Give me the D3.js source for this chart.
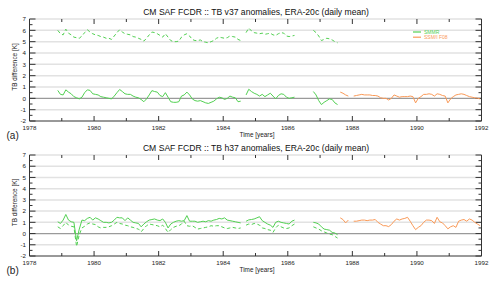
<!DOCTYPE html>
<html>
<head>
<meta charset="utf-8">
<script src="https://cdn.jsdelivr.net/npm/d3@7"></script>
<style>
  body { margin: 0; background: #fff; }
  svg { display: block; font-family: "Liberation Sans", Arial, sans-serif; }
</style>
</head>
<body>
<svg width="500" height="284"></svg>
<script>
// monthly anomalies, SMMR starts Nov 1978, SSM/I F08 starts Aug 1987 (null = no data)
const smmrStart = 1978 + 10.5 / 12;
const ssmiStart = 1987 + 7.5 / 12;

const v37Smmr = [
  0.7, 0.35,
  0.3, 0.75, 0.55, 0.4, 0.15, 0.05, -0.05, 0.1, 0.5, 0.75, 0.7, 0.4,
  0.35, 0.3, 0.15, 0.1, 0.05, 0.0, -0.05, 0.2, 0.5, 0.78, 0.6, 0.4,
  0.35, 0.35, 0.2, 0.1, 0.05, -0.1, -0.3, -0.05, 0.3, 0.68, 0.6, 0.55,
  0.25, 0.15, 0.5, 0.1, -0.3, -0.35, -0.35, -0.3, 0.2, 0.3, 0.55, 0.3,
  -0.05, -0.2, -0.25, -0.2, -0.3, -0.4, -0.45, -0.35, -0.25, -0.05, 0.1, 0.05,
  -0.1, 0.0, 0.2, 0.1, 0.05, -0.3, -0.25, null, 0.3, 0.8, 0.6, 0.45,
  0.35, 0.2, 0.35, 0.15, 0.3, 0.45, 0.2, -0.05, 0.25, 0.4, 0.35, 0.1,
  0.0, 0.05, 0.1, null, null, null, null, null, null, 0.6, 0.3, -0.2,
  -0.55, -0.35, -0.2, -0.05, -0.1, -0.4, -0.55
];
const v37SmmrDashed = [
  6.0, 5.7,
  5.6, 6.1, 5.75, 5.6, 5.4, 5.35, 5.3, 5.5, 5.8, 6.05, 5.85, 5.7,
  5.6, 5.55, 5.45, 5.4, 5.3, 5.3, 5.2, 5.5, 5.8, 6.05, 5.85, 5.7,
  5.65, 5.6, 5.45, 5.4, 5.3, 5.2, 5.05, 5.3, 5.6, 5.85, 5.8, 5.7,
  5.55, 5.4, 5.7, 5.4, 5.1, 5.0, 5.0, 5.05, 5.4, 5.6, 5.7, 5.5,
  5.2, 5.1, 5.1, 5.15, 5.0, 4.95, 4.9, 5.0, 5.1, 5.3, 5.4, 5.35,
  5.3, 5.35, 5.5, 5.45, 5.4, 5.2, 5.1, null, 5.8, 6.2, 5.95, 5.8,
  5.75, 5.7, 5.75, 5.65, 5.7, 5.75, 5.6, 5.55, 5.7, 5.8, 5.75, 5.5,
  5.45, 5.5, 5.55, null, null, null, null, null, null, 6.0, 5.8, 5.5,
  5.1, 5.2, 5.3, 5.25, 5.15, 5.0, 4.9
];
const v37Ssmi = [
  0.55, 0.45, 0.3, 0.2, null,
  0.2, 0.25, 0.3, 0.35, 0.3, 0.3, 0.3, 0.25, 0.25, 0.2, 0.05, 0.0,
  0.0, -0.15, 0.0, 0.3, 0.2, 0.1, 0.15, 0.15, 0.15, 0.2, 0.15, -0.4,
  0.0, 0.15, 0.35, 0.35, 0.4, 0.35, 0.2, 0.4, 0.35, 0.25, 0.2, -0.4,
  -0.05, 0.15, 0.3, 0.35, 0.4, 0.35, 0.25, 0.15, 0.1, 0.05, 0.0, -0.05
];

const h37Smmr = [
  1.05, 0.9,
  1.2, 1.7, 1.2, 1.05, 1.0, -0.65, 0.4, 1.2, 1.15, 1.35, 1.45, 1.2,
  1.4, 1.3, 1.15, 1.0, 1.0, 0.95, 1.0, 1.2, 1.45, 1.4, 1.4, 1.15,
  1.4, 1.2, 1.0, 0.95, 0.9, 0.6, 0.85, 1.05, 1.2, 1.25, 1.3, 1.2,
  1.15, 1.3, 1.0, 0.5, 0.85, 1.0, 1.1, 1.15, 1.1, 1.15, 1.6, 1.1,
  1.1, 1.1, 1.0, 1.05, 1.1, 1.05, 1.15, 1.1, 1.2, 1.25, 1.35, 1.3,
  1.4, 1.2, 1.15, 1.1, 1.05, 1.0, 0.95, null, 1.1, 1.22, 1.25, 1.3,
  1.4, 1.5, 1.15, 1.0, 0.85, 0.75, 0.55, 1.0, 1.1, 1.0, 0.95, 0.9,
  0.85, 1.1, 1.2, null, null, null, null, null, null, 1.0, 0.95, 0.85,
  0.6, 0.4, 0.35, 0.3, 0.1, 0.05, -0.1
];
const h37SmmrDashed = [
  0.6, 0.45,
  0.7, 1.0, 0.75, 0.65, 0.6, -1.15, -0.1, 0.5, 0.65, 0.85, 0.95, 0.85,
  0.8, 0.6, 0.5, 0.55, 0.55, 0.6, 0.7, 0.85, 1.0, 0.9, 0.85, 0.75,
  0.7, 0.6, 0.55, 0.45, 0.4, 0.15, 0.45, 0.7, 0.85, 0.8, 0.75, 0.7,
  0.6, 0.75, 0.45, 0.1, 0.35, 0.55, 0.65, 0.7, 0.85, 1.1, 0.7, 0.65,
  0.7, 0.55, 0.4, 0.45, 0.5, 0.55, 0.6, 0.7, 0.65, 0.7, 0.7, 0.6,
  0.5, 0.45, 0.5, 0.55, 0.5, 0.45, 0.5, null, 0.75, 0.85, 0.8, 0.9,
  0.85, 0.75, 0.5, 0.45, 0.35, 0.3, 0.1, 0.5, 0.75, 0.6, 0.5, 0.45,
  0.5, 0.7, 0.85, null, null, null, null, null, null, 0.6, 0.5, 0.4,
  0.25, 0.15, 0.05, -0.05, -0.1, -0.25, -0.4
];
const h37Ssmi = [
  1.4, 1.25, 0.95, 1.2, null,
  1.1, 1.1, 1.15, 1.2, 1.2, 1.15, 1.2, 1.2, 1.25, 1.0, 0.85, 0.7,
  0.7, 0.62, 0.8, 1.1, 1.3, 1.2, 1.3, 1.35, 1.45, 1.1, 0.7, 0.35,
  0.55, 0.7, 1.0, 1.2, 1.2, 1.15, 0.9, 1.45, 1.05, 0.95, 0.7, 0.42,
  0.6, 0.7, 0.55, 1.1, 1.2, 1.25, 1.1, 1.3, 1.2, 1.0, 0.85, 0.7
];

const yTicks = [-2, -1, 0, 1, 2, 3, 4, 5, 6, 7];
const xTicks = [1978, 1980, 1982, 1984, 1986, 1988, 1990, 1992];
const legendNames = ["SMMR", "SSM/I F08"];

const green = "#52d052";
const orange = "#fa9a58";

const svg = d3.select("svg");
const x = d3.scaleLinear().domain([1978, 1992]).range([29.5, 481.5]);

const panels = [
  { title: "CM SAF FCDR :: TB v37 anomalies, ERA-20c (daily mean)", tag: "(a)",
    y0: 121, y1: 19, smmr: v37Smmr, smmrD: v37SmmrDashed, ssmi: v37Ssmi, legend: true },
  { title: "CM SAF FCDR :: TB h37 anomalies, ERA-20c (daily mean)", tag: "(b)",
    y0: 256, y1: 155, smmr: h37Smmr, smmrD: h37SmmrDashed, ssmi: h37Ssmi, legend: false }
];

function toPoints(values, start) {
  return values.map((v, i) => ({ t: start + i / 12, v: v }));
}

panels.forEach((p) => {
  const y = d3.scaleLinear().domain([-2, 7]).range([p.y0, p.y1]);
  const g = svg.append("g");
  const [xl, xr] = x.range();

  // grid lines
  g.append("g").selectAll("line")
    .data(yTicks.filter((d) => d > -2))
    .join("line")
    .attr("x1", xl).attr("x2", xr)
    .attr("y1", (d) => y(d)).attr("y2", (d) => y(d))
    .attr("stroke", (d) => (d === 0 ? "#9a9a9a" : "#e2e2e2"))
    .attr("stroke-width", (d) => (d === 0 ? 1.3 : 1.5));

  // frame
  g.append("path")
    .attr("d", `M${xl},${y(7)}V${y(-2)}H${xr}V${y(7)}`)
    .attr("fill", "none").attr("stroke", "#333").attr("stroke-width", 1);

  // y ticks, both sides
  const yMinor = d3.range(-2, 7.01, 0.5);
  g.append("g").selectAll("line")
    .data(yMinor)
    .join("line")
    .attr("x1", xl).attr("x2", (d) => xl + (Number.isInteger(d) ? 6 : 3))
    .attr("y1", (d) => y(d)).attr("y2", (d) => y(d))
    .attr("stroke", "#333");
  g.append("g").selectAll("line")
    .data(yMinor)
    .join("line")
    .attr("x1", xr).attr("x2", (d) => xr - (Number.isInteger(d) ? 6 : 3))
    .attr("y1", (d) => y(d)).attr("y2", (d) => y(d))
    .attr("stroke", "#333");

  // x ticks, bottom and top
  const xMinor = d3.range(1978, 1992.01, 1);
  g.append("g").selectAll("line")
    .data(xMinor)
    .join("line")
    .attr("x1", (d) => x(d)).attr("x2", (d) => x(d))
    .attr("y1", y(-2)).attr("y2", (d) => y(-2) - (d % 2 === 0 ? 5 : 3))
    .attr("stroke", "#333");
  g.append("g").selectAll("line")
    .data(xMinor)
    .join("line")
    .attr("x1", (d) => x(d)).attr("x2", (d) => x(d))
    .attr("y1", y(7)).attr("y2", (d) => y(7) + (d % 2 === 0 ? 5 : 3))
    .attr("stroke", "#333");

  // tick labels
  g.append("g").selectAll("text")
    .data(yTicks)
    .join("text")
    .attr("x", xl - 3.5).attr("y", (d) => y(d) + 2.2)
    .attr("text-anchor", "end").attr("font-size", 6.2).attr("fill", "#222")
    .text((d) => d);
  g.append("g").selectAll("text")
    .data(xTicks)
    .join("text")
    .attr("x", (d) => x(d)).attr("y", y(-2) + 8.6)
    .attr("text-anchor", "middle").attr("font-size", 6.2).attr("fill", "#222")
    .text((d) => d);

  // titles and labels
  g.append("text")
    .attr("x", 256).attr("y", p.y1 - 4)
    .attr("text-anchor", "middle").attr("font-size", 8.6).attr("fill", "#111")
    .text(p.title);
  g.append("text")
    .attr("transform", `translate(17,${(p.y0 + p.y1) / 2 - 3}) rotate(-90)`)
    .attr("text-anchor", "middle").attr("font-size", 6.4).attr("fill", "#222")
    .text("TB difference [K]");
  g.append("text")
    .attr("x", 257).attr("y", p.y0 + 16)
    .attr("text-anchor", "middle").attr("font-size", 6.4).attr("fill", "#222")
    .text("Time [years]");
  g.append("text")
    .attr("x", 6.5).attr("y", p.y0 + 17.5)
    .attr("font-size", 10).attr("fill", "#222")
    .text(p.tag);

  // series
  const line = d3.line()
    .defined((d) => d.v !== null)
    .x((d) => x(d.t))
    .y((d) => y(d.v));

  g.append("path")
    .attr("d", line(toPoints(p.smmrD, smmrStart)))
    .attr("fill", "none").attr("stroke", green).attr("stroke-width", 1)
    .attr("stroke-dasharray", "3.5,2.5");
  g.append("path")
    .attr("d", line(toPoints(p.smmr, smmrStart)))
    .attr("fill", "none").attr("stroke", green).attr("stroke-width", 1);
  g.append("path")
    .attr("d", line(toPoints(p.ssmi, ssmiStart)))
    .attr("fill", "none").attr("stroke", orange).attr("stroke-width", 1);

  if (p.legend) {
    const lg = g.append("g").attr("transform", "translate(413,32)");
    lg.append("g").selectAll("line")
      .data(legendNames)
      .join("line")
      .attr("x1", 0).attr("x2", 8)
      .attr("y1", (d, i) => i * 5.2).attr("y2", (d, i) => i * 5.2)
      .attr("stroke", (d, i) => (i === 0 ? green : orange)).attr("stroke-width", 1.2);
    lg.append("g").selectAll("text")
      .data(legendNames)
      .join("text")
      .attr("x", 11).attr("y", (d, i) => i * 5.2 + 1.8)
      .attr("font-size", 5).attr("fill", (d, i) => (i === 0 ? green : orange))
      .text((d) => d);
  }
});
</script>
</body>
</html>
